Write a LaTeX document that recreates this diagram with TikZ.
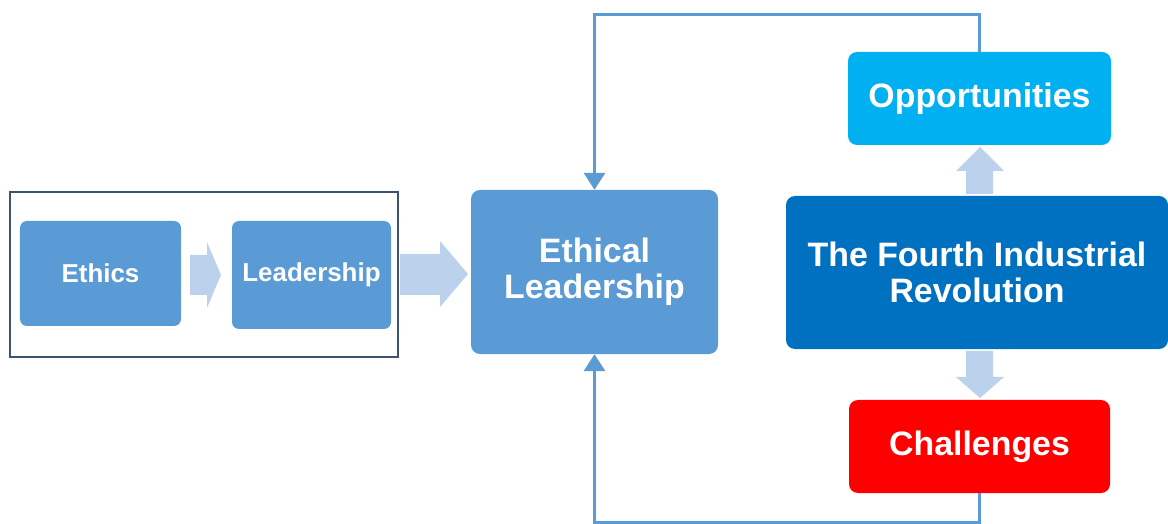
\documentclass[tikz,border=0pt]{standalone}
\usepackage{fontspec}
\setmainfont{Liberation Sans}
\usetikzlibrary{arrows.meta}

\definecolor{boxblue}{HTML}{5B9BD5}
\definecolor{paleblue}{HTML}{BCD2EC}
\definecolor{deepblue}{HTML}{0070C0}
\definecolor{skyblue}{HTML}{00B0F0}
\definecolor{alertred}{HTML}{FF0000}
\definecolor{framegray}{HTML}{3E5272}

\tikzset{
  box/.style={rectangle, rounded corners=9bp, inner sep=0pt, text=white,
    font=\bfseries, align=center},
  smallbox/.style={box, fill=boxblue, rounded corners=7bp,
    font=\fontsize{26}{30}\selectfont\bfseries},
  bigbox/.style={box, font=\fontsize{34}{36.5}\selectfont\bfseries},
  conn/.style={draw=boxblue, line width=3bp,
    -{Triangle[length=17bp,width=21bp]}},
  blockarrow/.style={fill=paleblue, draw=none},
}

\begin{document}
\begin{tikzpicture}[x=1bp, y=-1bp]
  \useasboundingbox (0,0) rectangle (1168,524);

  % grouping frame around the two inputs
  \draw[framegray, line width=1.2bp] (10,192) rectangle (398,357);

  % boxes
  \node[smallbox, minimum width=161bp, minimum height=105bp] (eth) at (100.5,273.5) {Ethics};
  \node[smallbox, minimum width=159bp, minimum height=108bp] (lead) at (311.5,275) {Leadership};
  \node[bigbox, fill=boxblue, minimum width=247bp, minimum height=164bp] (el) at (594.5,272) {Ethical\\Leadership};
  \node[bigbox, fill=deepblue, minimum width=382bp, minimum height=153bp] (ir) at (977,272.5) {The Fourth Industrial\\Revolution};
  \node[bigbox, fill=skyblue, minimum width=263bp, minimum height=93bp] (opp) at (979.5,98.5) {Opportunities};
  \node[bigbox, fill=alertred, minimum width=261bp, minimum height=93bp] (chal) at (979.5,446.5) {Challenges};

  % block arrows
  \fill[blockarrow] (190,255) -- (207,255) -- (207,242) -- (221,275)
    -- (207,308) -- (207,295) -- (190,295) -- cycle;
  \fill[blockarrow] (400,254) -- (440,254) -- (440,241) -- (468,274)
    -- (440,307) -- (440,295) -- (400,295) -- cycle;
  \fill[blockarrow] (966,194) -- (966,171) -- (956,171) -- (980,147)
    -- (1004,171) -- (993,171) -- (993,194) -- cycle;
  \fill[blockarrow] (966,351) -- (966,377) -- (956,377) -- (980,398)
    -- (1004,377) -- (993,377) -- (993,351) -- cycle;

  % feedback connectors
  \coordinate (toprail) at (0,15);
  \coordinate (botrail) at (0,522);
  \draw[conn] (opp.north) -- (opp.north |- toprail) -| (el.north);
  \draw[conn] (chal.south) -- (chal.south |- botrail) -| (el.south);
\end{tikzpicture}
\end{document}
